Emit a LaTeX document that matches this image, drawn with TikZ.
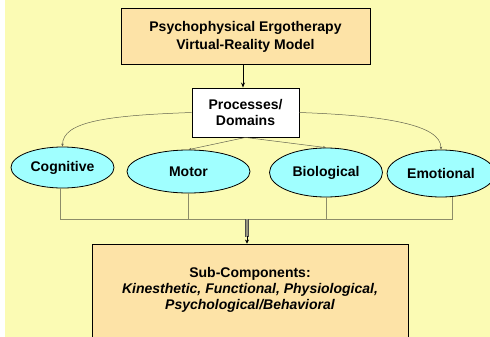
\documentclass[tikz,border=0pt]{standalone}
\usepackage{fontspec}
\setmainfont{Liberation Sans}
\usetikzlibrary{shapes.geometric,arrows.meta}
\definecolor{bgyellow}{RGB}{251,251,180}
\definecolor{tanfill}{RGB}{253,227,167}
\definecolor{cyanfill}{RGB}{160,255,255}
\definecolor{connclr}{RGB}{100,100,80}
\definecolor{brclr}{RGB}{140,140,105}
\definecolor{thickclr}{RGB}{150,150,128}
\begin{document}
\begin{tikzpicture}[x=1pt,y=-1pt,
  txt/.style={font=\fontsize{14}{16}\selectfont\bfseries, align=center},
  tanbox/.style={draw=black, line width=0.9pt, fill=tanfill, inner sep=0pt},
  whitebox/.style={draw=black, line width=0.9pt, fill=white, inner sep=0pt, txt},
  domainnode/.style={ellipse, draw=black, line width=0.8pt, fill=cyanfill, inner sep=0pt, txt},
  conn/.style={draw=connclr, line width=0.5pt, -{Stealth[length=3pt,width=2.5pt]}},
  bracket/.style={draw=brclr, line width=0.7pt}]
\useasboundingbox (0,0) rectangle (490,337);
\fill[bgyellow] (5,0) rectangle (490,337);
\node[tanbox, txt, font=\fontsize{14}{18}\selectfont\bfseries, minimum width=249pt, minimum height=56pt] (top) at (245.5,36.5)
  {Psychophysical Ergotherapy\\Virtual-Reality Model};
\node[whitebox, minimum width=107pt, minimum height=49pt] (proc) at (245.5,112.5)
  {Processes/\\Domains};
\node[domainnode, minimum width=103pt, minimum height=41pt] (cog) at (62.5,167.5) {Cognitive};
\node[domainnode, minimum width=123pt, minimum height=43pt] (mot) at (188.5,171.5) {\raisebox{-3pt}{Motor}};
\node[domainnode, minimum width=113pt, minimum height=49pt] (bio) at (326,172.5) {Biological};
\node[domainnode, minimum width=108pt, minimum height=47pt] (emo) at (441,173.5) {\raisebox{-2pt}{Emotional}};
\node[tanbox, minimum width=316pt, minimum height=104pt] (sub) at (250,296) {};
\node[txt] (subtxt) at (250,290)
  {Sub-Components:\\\itshape Kinesthetic, Functional, Physiological,\\\itshape Psychological/Behavioral};
\coordinate (jn) at (247,219);
\draw[-{Stealth[length=5pt,width=4pt]}, line width=0.9pt] (top.south -| 243,0) -- (proc.north -| 243,0);
\draw[conn] (proc.west) .. controls +(-85,3) and +(0,-25) .. (cog.north);
\draw[conn] (proc.east) .. controls +(85,3) and +(0,-25) .. (emo.north);
\draw[conn] (proc.south) -- (mot.north);
\draw[conn] (proc.south) -- (bio.north);
\draw[bracket] (cog.south -| 60,0) -- (60,219) -- (452,219) -- ([xshift=11pt]emo.south);
\draw[bracket] (mot.south) -- (mot.south |- jn);
\draw[bracket] (bio.south) -- (bio.south |- jn);
\draw[line width=3pt, draw=thickclr] (jn) -- (247,237);
\draw[line width=0.6pt, draw=black!70] (245.5,219) -- (245.5,237) (248.5,219) -- (248.5,237);
\draw[-{Stealth[length=4pt,width=4pt]}, line width=0.6pt] (247,236) -- (sub.north -| jn);
\end{tikzpicture}
\end{document}
